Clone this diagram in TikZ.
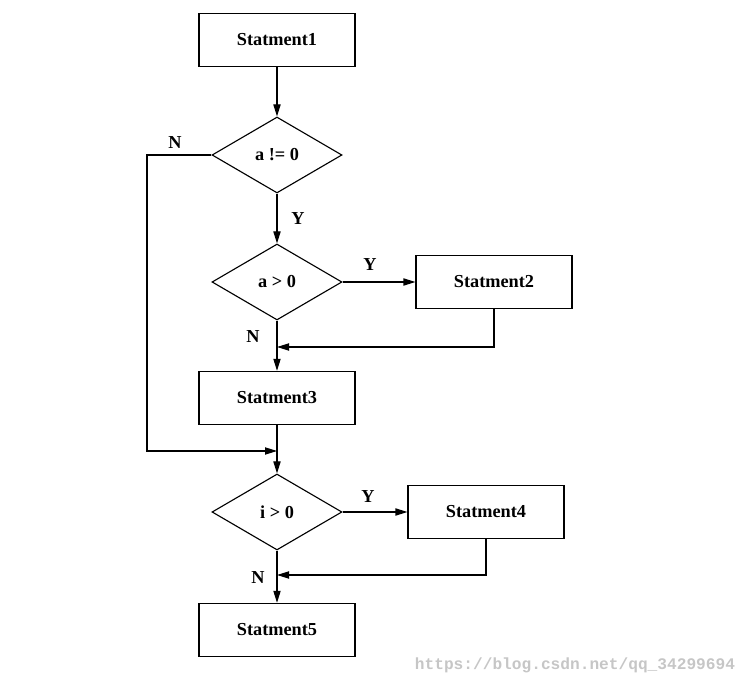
\documentclass[tikz,border=0pt]{standalone}
\usepackage{fontspec}
\setmainfont{Liberation Serif}
\newfontfamily\wmfont{Liberation Mono}
\usetikzlibrary{shapes.geometric,arrows.meta}

\begin{document}
\begin{tikzpicture}[
    line width=0.8pt,
    >={Triangle[length=3mm,width=1.8mm]},
    box/.style={draw, minimum width=3.9cm, minimum height=1.33cm},
    test/.style={draw, diamond, aspect=1.7, inner sep=0pt, minimum width=3.25cm, minimum height=1.9cm},
    lbl/.style={font=\bfseries}
  ]
        \fontsize{13}{15}\selectfont\bfseries
        \useasboundingbox (0,0) rectangle (18.75,-17.125);
        \node[box] (a) at (6.925,-1.0) {Statment1};
        \node[test] (b) at (6.925,-3.875) {a != 0};
        \node[test] (c) at (6.925,-7.05) {a > 0};
        \node[box] (d) at (12.35,-7.05) {Statment2};
        \node[box] (e) at (6.925,-9.95) {Statment3};
        \node[test] (f) at (6.925,-12.8) {i > 0};
        \node[box] (g) at (12.15,-12.8) {Statment4};
        \node[box] (h) at (6.925,-15.75) {Statment5};
        % junctions
        \coordinate (j1) at (6.925,-8.675);
        \coordinate (j2) at (6.925,-11.275);
        \coordinate (j3) at (6.925,-14.375);
        \coordinate (k) at (3.675,-11.275);
        \draw[->] (a) -- (b);
        \draw[->] (b) -- (c);
        \draw[->] (b.west) -| (k) -- (j2);
        \draw[->] (c.east) -- (d.west);
        \draw[->] (d.south) |- (j1);
        \draw[->] (c) -- (e);
        \draw[->] (e) -- (f);
        \draw[->] (f.east) -- (g.west);
        \draw[->] (g.south) |- (j3);
        \draw[->] (f) -- (h);
        % labels
        \node[lbl] (n1) at (4.375,-3.575) {N};
        \node[lbl] (y1) at (7.45,-5.475) {Y};
        \node[lbl] (y2) at (9.25,-6.625) {Y};
        \node[lbl] (n2) at (6.325,-8.425) {N};
        \node[lbl] (y3) at (9.2,-12.425) {Y};
        \node[lbl] (n3) at (6.45,-14.45) {N};
        \node[text=gray!45, font=\wmfont\fontsize{11.5}{13}\selectfont] (w) at (14.375,-16.625) {https://blog.csdn.net/qq\_34299694};
    \end{tikzpicture}
\end{document}
